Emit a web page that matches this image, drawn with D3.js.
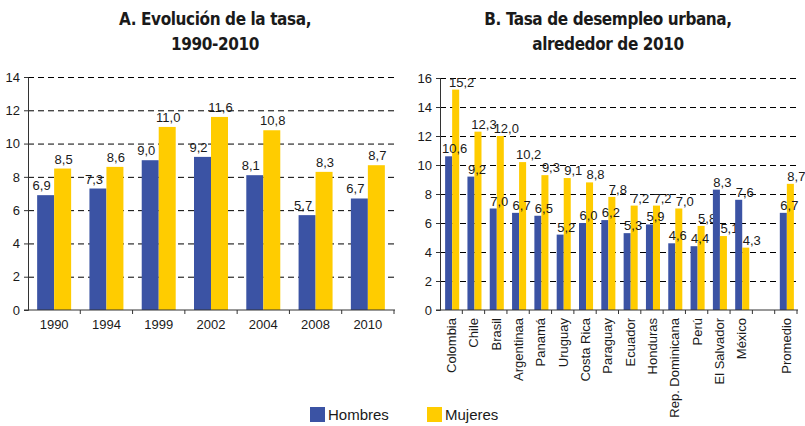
<!DOCTYPE html>
<html lang="es">
<head>
<meta charset="UTF-8">
<title>Tasa de desempleo urbana</title>
<script src="https://d3js.org/d3.v7.min.js"></script>
<style>
  body { margin: 0; background: #fff; }
  svg text { font-family: "Liberation Sans", Arial, sans-serif; }
  svg text.title { font-family: "DejaVu Sans Condensed", "Liberation Sans Narrow", sans-serif; font-weight: bold; font-size: 17px; letter-spacing: -0.4px; fill: #1a1a1a; }
  .tick text { font-size: 13px; fill: #1a1a1a; }
  .val { font-size: 13px; fill: #1a1a1a; }
  .grid line { stroke: #000; stroke-dasharray: 6,4; }
</style>
</head>
<body>
<div id="chart"></div>
<script>
// panel A
const years = ["1990", "1994", "1999", "2002", "2004", "2008", "2010"];
const hombresA = [6.9, 7.3, 9.0, 9.2, 8.1, 5.7, 6.7];
const mujeresA = [8.5, 8.6, 11.0, 11.6, 10.8, 8.3, 8.7];
const ticksA = [0, 2, 4, 6, 8, 10, 12, 14];

// panel B
const paises = ["Colombia", "Chile", "Brasil", "Argentinaa", "Panamá", "Uruguay", "Costa Rica",
  "Paraguay", "Ecuador", "Honduras", "Rep. Dominicana", "Perú", "El Salvador", "México"];
const hombresB = [10.6, 9.2, 7.0, 6.7, 6.5, 5.2, 6.0, 6.2, 5.3, 5.9, 4.6, 4.4, 8.3, 7.6];
const mujeresB = [15.2, 12.3, 12.0, 10.2, 9.3, 9.1, 8.8, 7.8, 7.2, 7.2, 7.0, 5.8, 5.1, 4.3];
const promedio = { label: "Promedio", hombres: 6.7, mujeres: 8.7 };
const ticksB = [0, 2, 4, 6, 8, 10, 12, 14, 16];

const series = ["Hombres", "Mujeres"];
const colors = ["#3b53a4", "#ffcc00"];

const W = 805, H = 426;
const svg = d3.select("#chart").append("svg").attr("width", W).attr("height", H);

const fmt = v => d3.format(".1f")(v).replace(".", ",");

function panel(opt) {
  const g = svg.append("g");
  const x = d3.scaleBand().domain(opt.cats).range([opt.x0, opt.x1]);
  const y = d3.scaleLinear().domain([0, d3.max(opt.ticks)]).range([310, opt.yTop]);
  const gw = x.bandwidth() * opt.groupFrac;
  const xs = d3.scaleBand().domain(series).range([0, gw]);

  // dashed gridlines
  g.append("g").attr("class", "grid")
    .attr("transform", `translate(${opt.x0},0)`)
    .call(d3.axisLeft(y).tickValues(opt.ticks.slice(1)).tickSize(-(opt.gridEnd - opt.x0)).tickFormat(""))
    .call(a => a.select(".domain").remove());

  const rows = opt.cats.map((c, i) => ({ cat: c, vals: [opt.h[i], opt.m[i]] }))
    .filter(d => d.vals[0] != null);

  const grp = g.selectAll(".grp").data(rows).join("g")
    .attr("transform", d => `translate(${x(d.cat) + (x.bandwidth() - gw) / 2 + opt.shift},0)`);

  grp.selectAll("rect").data(d => d.vals.map((v, k) => ({ s: series[k], v, k })))
    .join("rect")
    .attr("x", d => xs(d.s))
    .attr("width", xs.bandwidth())
    .attr("y", d => y(d.v))
    .attr("height", d => y(0) - y(d.v))
    .attr("fill", d => colors[d.k]);

  grp.selectAll("text").data(d => d.vals.map((v, k) => ({ s: series[k], v, k })))
    .join("text").attr("class", "val")
    .attr("text-anchor", "middle")
    .attr("x", d => xs(d.s) + xs.bandwidth() / 2 + opt.labelDx[d.k])
    .attr("y", d => y(d.v) - opt.labelDy)
    .text(d => fmt(d.v));

  // y axis
  const ya = g.append("g").attr("transform", `translate(${opt.x0},0)`)
    .call(d3.axisLeft(y).tickValues(opt.ticks).tickSize(4).tickPadding(4).tickFormat(d3.format("d")));
  ya.attr("font-family", null);
  ya.selectAll("line, path").attr("stroke", "#333");

  // x axis with ticks between groups
  const xa = g.append("g").attr("transform", "translate(0,310)");
  xa.append("line").attr("x1", opt.x0 - 4).attr("x2", opt.gridEnd).attr("stroke", "#333");
  xa.selectAll(".sep").data(opt.cats)
    .join("line")
    .attr("x1", d => x(d) + x.step())
    .attr("x2", d => x(d) + x.step())
    .attr("y2", 4).attr("stroke", "#333");

  const lab = xa.selectAll(".lab").data(opt.cats.filter(c => c.trim() !== ""))
    .join("text").attr("class", "val");
  if (opt.rotate) {
    lab.attr("text-anchor", "end")
      .attr("transform", d => `translate(${x(d) + x.bandwidth() / 2 + 5},8) rotate(-90)`)
      .text(d => d);
  } else {
    lab.attr("text-anchor", "middle")
      .attr("x", d => x(d) + x.bandwidth() / 2)
      .attr("y", 19)
      .text(d => d);
  }

  svg.append("text").attr("class", "title").attr("text-anchor", "middle")
    .attr("x", opt.titleX).attr("y", 25).text(opt.title[0]);
  svg.append("text").attr("class", "title").attr("text-anchor", "middle")
    .attr("x", opt.titleX).attr("y", 50).text(opt.title[1]);
}

panel({
  cats: years, h: hombresA, m: mujeresA, ticks: ticksA,
  x0: 28, x1: 394, gridEnd: 395, yTop: 77, groupFrac: 0.65, shift: 0,
  labelDx: [-4, 1], labelDy: 5, rotate: false,
  title: ["A. Evolución de la tasa,", "1990-2010"], titleX: 215
});

panel({
  cats: paises.concat([" ", promedio.label]),
  h: hombresB.concat([null, promedio.hombres]),
  m: mujeresB.concat([null, promedio.mujeres]),
  ticks: ticksB,
  x0: 440, x1: 797, gridEnd: 798, yTop: 78, groupFrac: 0.63, shift: 1,
  labelDx: [6, 6], labelDy: 3, rotate: true,
  title: ["B. Tasa de desempleo urbana,", "alrededor de 2010"], titleX: 608
});

// legend
const leg = svg.append("g").attr("transform", "translate(310,407)");
const li = leg.selectAll("g").data(series).join("g")
  .attr("transform", (d, i) => `translate(${i * 117},0)`);
li.append("rect").attr("width", 15).attr("height", 15).attr("fill", (d, i) => colors[i]);
li.append("text").attr("x", 18).attr("y", 13).attr("font-size", 15).attr("fill", "#1a1a1a").text(d => d);
</script>
</body>
</html>
